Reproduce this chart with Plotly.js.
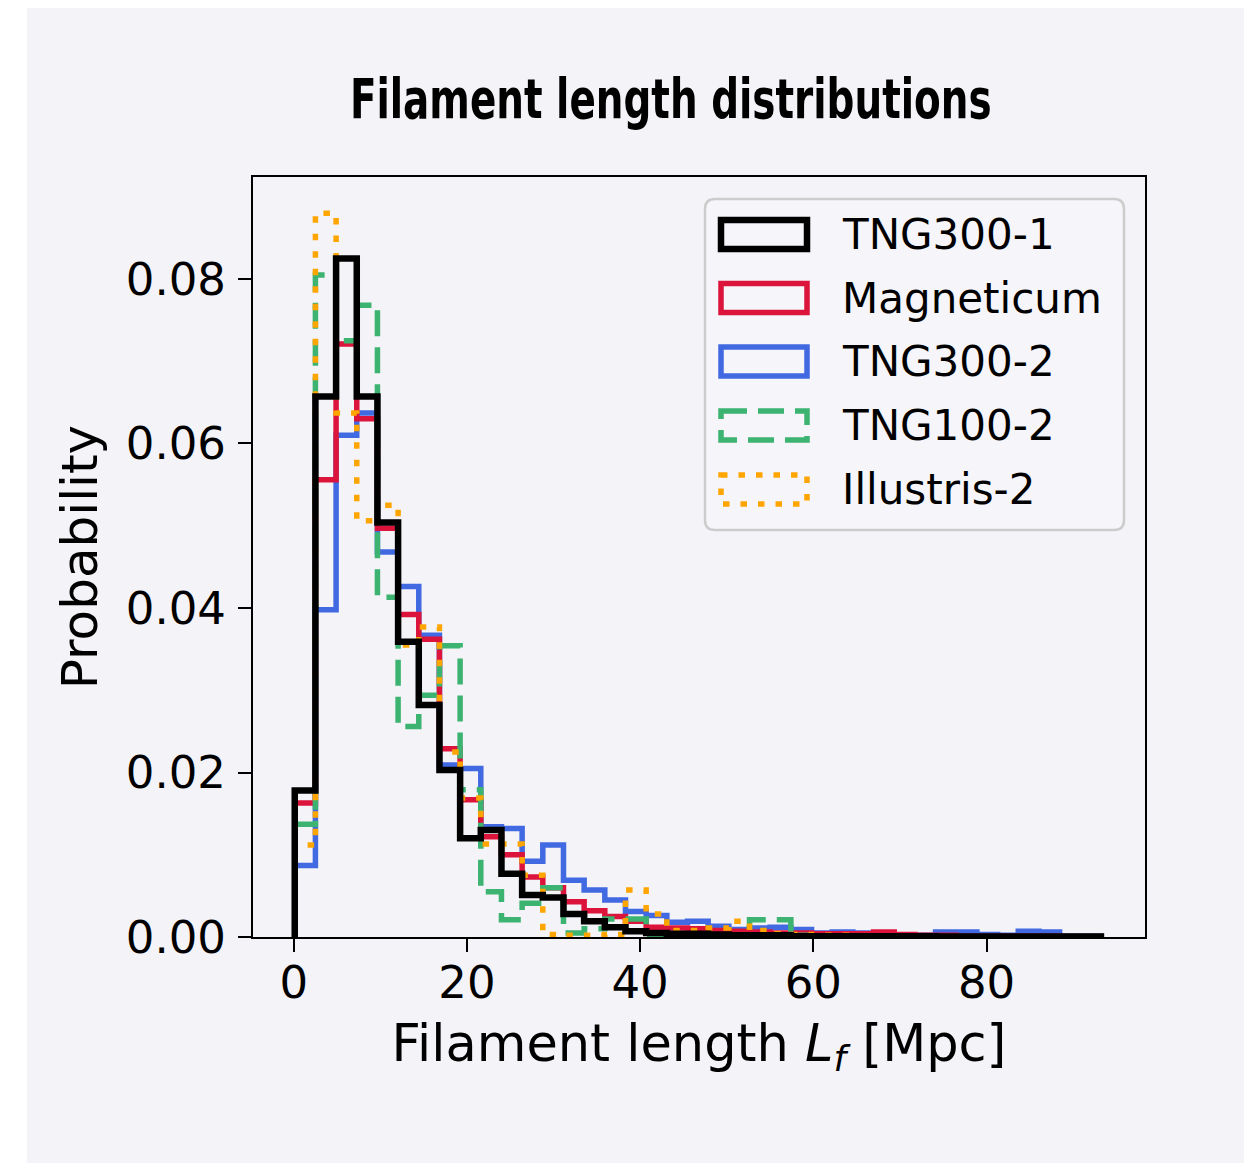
<!DOCTYPE html>
<html><head><meta charset="utf-8">
<script src="https://cdn.plot.ly/plotly-3.0.1.min.js"></script>
<style>
html,body{margin:0;padding:0;background:#ffffff;}
#chart{position:absolute;left:27px;top:8px;width:1217px;height:1155px;}
</style></head><body><div id="chart"></div>
<script>
// Bin edges (Mpc)
const binEdges = [0.12, 2.507, 4.894, 7.281, 9.668, 12.055, 14.442, 16.829, 19.216, 21.603,
  23.99, 26.377, 28.764, 31.151, 33.538, 35.925, 38.312, 40.699, 43.086, 45.473,
  47.86, 50.247, 52.634, 55.021, 57.408, 59.795, 62.182, 64.569, 66.956, 69.343,
  71.73, 74.117, 76.504, 78.891, 81.278, 83.665, 86.052, 88.439, 90.826, 93.213];

const seriesNames = ['TNG300-1', 'Magneticum', 'TNG300-2', 'TNG100-2', 'Illustris-2'];

const tng300_1 = [0.0178, 0.0657, 0.0825, 0.0657, 0.0504, 0.0359, 0.0282, 0.0203, 0.0120, 0.0130,
  0.0077, 0.0051, 0.0048, 0.0028, 0.0019, 0.0012, 0.0007, 0.0005, 0.0004, 0.0004,
  0.0003, 0.0002, 0.0002, 0.0002, 0.0001, 0.0001, 0.0001, 0.0001, 0.0001, 0.0001,
  0.0001, 0.00005, 0.00005, 0.00005, 0.00005, 0.00005, 0.00005, 0.00005, 0.00005];

const magneticum = [0.0163, 0.0556, 0.0721, 0.0630, 0.0497, 0.0392, 0.0362, 0.0229, 0.0167, 0.0122,
  0.0100, 0.0073, 0.0060, 0.0043, 0.0032, 0.0025, 0.0019, 0.0012, 0.0011, 0.0010,
  0.0008, 0.0007, 0.0006, 0.0005, 0.0005, 0.0004, 0.0004, 0.0004, 0.0006, 0.0003,
  0.0002, 0.0002, 0.0001, 0.0001, 0.0001, 0.0001, 0.0001, 0.00005, 0.00005];

const tng300_2 = [0.0087, 0.0398, 0.0610, 0.0637, 0.0468, 0.0426, 0.0367, 0.0209, 0.0205, 0.0134,
  0.0132, 0.0092, 0.0112, 0.0069, 0.0057, 0.0045, 0.0031, 0.0026, 0.0018, 0.0019,
  0.0013, 0.0009, 0.0011, 0.0012, 0.0009, 0.0005, 0.0006, 0.0005, 0.0003, 0.0002,
  0.0002, 0.0006, 0.0006, 0.0003, 0.0002, 0.0007, 0.0006, 0.0001, 0.0001];

const tng100_2 = [0.0137, 0.0805, 0.0725, 0.0768, 0.0413, 0.0256, 0.0294, 0.0354, 0.0179, 0.0055,
  0.0021, 0.0041, 0.0060, 0.0005, 0.0010, 0.0022, 0.0022, 0.0003, 0.0003, 0.0002,
  0.0001, 0.0001, 0.0021, 0.0021, 0.0002, 0.0001, 0.0001, 0, 0, 0,
  0, 0, 0, 0, 0, 0, 0, 0, 0];

const illustris_2 = [0.0112, 0.0880, 0.0637, 0.0506, 0.0525, 0.0355, 0.0377, 0.0225, 0.0169, 0.0113,
  0.0113, 0.0075, 0.0003, 0.0002, 0.0002, 0.0003, 0.0057, 0.0028, 0.0008, 0.0008,
  0.0011, 0.0019, 0.0008, 0.0004, 0.0003, 0.0002, 0.0002, 0.0001, 0.0001, 0.0001,
  0, 0, 0, 0, 0, 0, 0, 0, 0];

const xTickVals = [0, 20, 40, 60, 80];
const xTickText = ['0', '20', '40', '60', '80'];
const yTickVals = [0, 0.02, 0.04, 0.06, 0.08];
const yTickText = ['0.00', '0.02', '0.04', '0.06', '0.08'];

const colors = ['#000000', '#DC143C', '#4169E1', '#3CB371', '#FFA500'];
const widths = [6.5, 5.5, 5.5, 5.5, 5.5];
const dashes = ['solid', 'solid', 'solid', '26px,11px', '6.5px,11px'];
const allVals = [tng300_1, magneticum, tng300_2, tng100_2, illustris_2];

function stepXY(vals) {
  const x = [binEdges[0]], y = [0];
  for (let i = 0; i < vals.length; i++) { x.push(binEdges[i]); y.push(vals[i]); }
  x.push(binEdges[vals.length]); y.push(0);
  return {x, y};
}

const drawOrder = [2, 1, 3, 4, 0];
const traces = drawOrder.map(i => {
  const s = stepXY(allVals[i]);
  return {x: s.x, y: s.y, type: 'scatter', mode: 'lines', name: seriesNames[i],
    line: {shape: 'hv', color: colors[i], width: widths[i], dash: dashes[i]},
    hoverinfo: 'skip', showlegend: false};
});

// Plot area in page pixels for legend placement
const PL = 253, PR = 1145, PT = 177, PB = 937;
const px = v => (v - PL) / (PR - PL);
const py = v => (PB - v) / (PB - PT);

const shapes = [];
const annotations = [];
// legend frame (rounded)
(function(){
  const x0 = 705, x1 = 1124, y0 = 199, y1 = 530, r = 10;
  const X = v => px(v), Y = v => py(v);
  const path = `M ${X(x0 + r)},${Y(y0)} L ${X(x1 - r)},${Y(y0)} Q ${X(x1)},${Y(y0)} ${X(x1)},${Y(y0 + r)} ` +
    `L ${X(x1)},${Y(y1 - r)} Q ${X(x1)},${Y(y1)} ${X(x1 - r)},${Y(y1)} L ${X(x0 + r)},${Y(y1)} ` +
    `Q ${X(x0)},${Y(y1)} ${X(x0)},${Y(y1 - r)} L ${X(x0)},${Y(y0 + r)} Q ${X(x0)},${Y(y0)} ${X(x0 + r)},${Y(y0)} Z`;
  shapes.push({type: 'path', xref: 'paper', yref: 'paper', path: path,
    line: {color: '#cccccc', width: 2.5}, fillcolor: 'rgba(246,245,250,0.85)', layer: 'above'});
})();
const rowCenters = [234.5, 298, 361.5, 425.5, 489.5];
seriesNames.forEach((nm, i) => {
  const c = rowCenters[i];
  shapes.push({type: 'rect', xref: 'paper', yref: 'paper',
    x0: px(721), x1: px(807), y0: py(c - 14.5), y1: py(c + 14.5),
    line: {color: colors[i], width: widths[i], dash: dashes[i]}, fillcolor: 'rgba(0,0,0,0)', layer: 'above'});
  annotations.push({xref: 'paper', yref: 'paper', x: px(840), y: py(c), xanchor: 'left', yanchor: 'middle',
    text: nm, showarrow: false, font: {family: 'DejaVu Sans', size: 42, color: '#000000'}});
});

const bg = '#f4f3f8';
const axisCommon = {
  showline: true, mirror: true, linecolor: '#000000', linewidth: 2,
  ticks: 'outside', ticklen: 13, tickwidth: 2, tickcolor: '#000000',
  showgrid: false, zeroline: false,
  tickfont: {family: 'DejaVu Sans', size: 45, color: '#000000'}
};

const layout = {
  width: 1217, height: 1155,
  paper_bgcolor: bg, plot_bgcolor: bg,
  margin: {l: 226, r: 99, t: 169, b: 226},
  showlegend: false,
  title: {text: 'Filament length distributions', xref: 'container', yref: 'container',
    x: 0.529, xanchor: 'center', y: 0.922, yanchor: 'middle',
    font: {family: '"DejaVu Sans Condensed", "DejaVu Sans", sans-serif', size: 56, weight: 'bold', color: '#000000'}},
  xaxis: Object.assign({}, axisCommon, {range: [-4.7, 98.3], tickmode: 'array', tickvals: xTickVals, ticktext: xTickText,
    ticklabelstandoff: -8,
    title: {text: 'Filament length <i>L</i><sub><i>f</i></sub> [Mpc]', standoff: 17,
      font: {family: 'DejaVu Sans', size: 51, color: '#000000'}}}),
  yaxis: Object.assign({}, axisCommon, {range: [0, 0.0924], tickmode: 'array', tickvals: yTickVals, ticktext: yTickText,
    ticklabelstandoff: 3,
    title: {text: 'Probability', standoff: 12,
      font: {family: 'DejaVu Sans', size: 50, color: '#000000'}}}),
  shapes: shapes,
  annotations: annotations
};

Plotly.newPlot('chart', traces, layout, {displayModeBar: false, staticPlot: true}).then(gd => {
  // condense the heavy title horizontally to the reference's narrow width
  const t = gd.querySelector('.gtitle');
  if (t) {
    const bb = t.getBBox();
    const targetW = 642;
    const sx = targetW / bb.width;
    const cx = bb.x + bb.width / 2;
    t.setAttribute('transform', `translate(${cx},0) scale(${sx},1) translate(${-cx},0)`);
  }
});
</script></body></html>
